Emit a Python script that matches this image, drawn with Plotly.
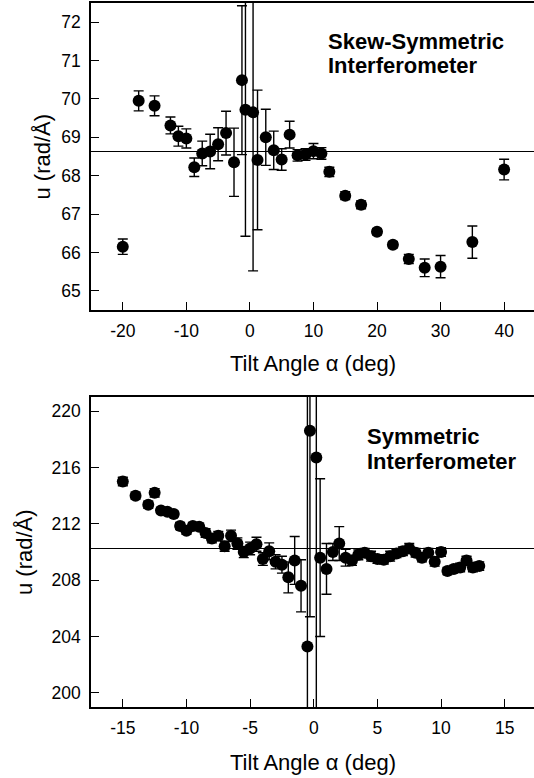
import plotly.graph_objects as go

# ---- Skew-symmetric interferometer: u versus tilt angle ----
tilt_skew = [-20, -17.5, -15, -12.5, -11.25, -10, -8.75, -7.5, -6.25, -5, -3.75, -2.5,
             -1.25, -0.7, 0.5, 1.2, 2.5, 3.75, 5, 6.25, 7.5, 8.75, 10, 11.25, 12.5,
             15, 17.5, 20, 22.5, 25, 27.5, 30, 35, 40]
u_skew = [66.15, 69.95, 69.82, 69.31, 69.03, 68.97, 68.22, 68.58, 68.63, 68.82, 69.11, 68.35,
          70.49, 69.72, 69.65, 68.41, 69.0, 68.66, 68.42, 69.07, 68.53, 68.55, 68.64, 68.58, 68.1,
          67.48, 67.24, 66.54, 66.2, 65.83, 65.6, 65.63, 66.27, 68.16]
err_skew = [0.2, 0.26, 0.26, 0.22, 0.26, 0.25, 0.24, 0.32, 0.45, 0.43, 0.57, 0.89,
            1.94, 3.3, 4.13, 1.82, 0.73, 0.5, 0.28, 0.35, 0.15, 0.15, 0.2, 0.15, 0.12,
            0.1, 0.1, 0.08, 0.08, 0.12, 0.23, 0.29, 0.42, 0.27]
u_ref_skew = 68.63
xticks_skew = [-20, -10, 0, 10, 20, 30, 40]
xtick_text_skew = ["-20", "-10", "0", "10", "20", "30", "40"]
yticks_skew = [65, 66, 67, 68, 69, 70, 71, 72]

# ---- Symmetric interferometer: u versus tilt angle ----
tilt_sym = [-15, -14, -13, -12.5, -12, -11.5, -11, -10.5, -10, -9.5, -9, -8.5, -8, -7.5,
            -7, -6.5, -6, -5.5, -5, -4.5, -4, -3.5, -3, -2.5, -2, -1.5, -1, -0.5, -0.3,
            0.2, 0.5, 1, 1.5, 2, 2.5, 3, 3.5, 4, 4.5, 5, 5.5, 6, 6.5, 7, 7.5, 8, 8.5,
            9, 9.5, 10, 10.5, 11, 11.5, 12, 12.5, 13]
u_sym = [215.0, 214.0, 213.35, 214.2, 212.95, 212.85, 212.7, 211.85, 211.5, 211.85, 211.8,
         211.35, 210.95, 211.15, 210.4, 211.15, 210.6, 210.0, 210.25, 210.55, 209.5, 210.05,
         209.3, 209.1, 208.2, 209.4, 207.6, 203.3, 218.6, 216.7, 209.6, 208.8, 210.0, 210.6,
         209.6, 209.4, 209.8, 209.95, 209.7, 209.5, 209.45, 209.7, 209.9, 210.05, 210.25,
         209.95, 209.6, 209.95, 209.3, 210.0, 208.65, 208.8, 208.9, 209.4, 208.9, 209.0]
err_sym = [0.3, 0.25, 0.25, 0.3, 0.2, 0.2, 0.2, 0.25, 0.25, 0.25, 0.25, 0.3, 0.3, 0.3,
           0.35, 0.4, 0.4, 0.4, 0.45, 0.5, 0.45, 0.6, 0.5, 0.6, 1.1, 1.7, 1.85, 20.0, 13.2,
           20.0, 5.6, 1.8, 0.6, 1.2, 0.6, 0.35, 0.35, 0.3, 0.35, 0.3, 0.3, 0.35, 0.3, 0.3,
           0.35, 0.3, 0.3, 0.3, 0.3, 0.3, 0.25, 0.25, 0.3, 0.3, 0.3, 0.3]
u_ref_sym = 210.25
xticks_sym = [-15, -10, -5, 0, 5, 10, 15]
xtick_text_sym = ["-15", "-10", "-5", "0", "5", "10", "15"]
yticks_sym = [200, 204, 208, 212, 216, 220]

FONT = "Liberation Sans, Arial, sans-serif"
W, H = 534, 778


def points(x, y, err, xa, ya):
    return go.Scatter(
        x=x, y=y, mode="markers", xaxis=xa, yaxis=ya, showlegend=False,
        marker=dict(symbol="circle", size=12, color="black", line=dict(width=0)),
        error_y=dict(type="data", array=err, visible=True, color="black",
                     thickness=1.4, width=5),
        cliponaxis=True,
    )


fig = go.Figure()
fig.add_trace(points(tilt_skew, u_skew, err_skew, "x", "y"))
fig.add_trace(points(tilt_sym, u_sym, err_sym, "x2", "y2"))

tick_style = dict(
    showgrid=False, zeroline=False,
    ticks="inside", ticklen=8, tickwidth=1.3, tickcolor="black",
    tickfont=dict(family=FONT, size=17.5, color="black"),
)
line_style = dict(showline=True, linecolor="black", linewidth=1.5)

x_dom = [91 / W, 1.0]
dom_top = [1 - 310 / H, 1 - 3 / H]
dom_bot = [1 - 707 / H, 1 - 397 / H]
range_top = [64.5, 72.5]
range_bot = [199, 221]

fig.update_layout(
    width=W, height=H,
    margin=dict(l=0, r=0, t=0, b=0),
    paper_bgcolor="white", plot_bgcolor="white",
    font=dict(family=FONT, color="black"),
    xaxis=dict(domain=x_dom, anchor="y", range=[-25, 44.7], tickmode="array",
               tickvals=xticks_skew, ticktext=xtick_text_skew, mirror=True,
               ticklabelstandoff=4, **tick_style, **line_style),
    yaxis=dict(domain=dom_top, anchor="x", range=range_top, tickmode="array",
               tickvals=yticks_skew, ticklabelstandoff=5, **tick_style, **line_style),
    # right-hand tick marks for the upper panel (frame edge lies at the page border)
    yaxis3=dict(overlaying="y", side="right", anchor="x", range=range_top,
                tickmode="array", tickvals=yticks_skew, showticklabels=False,
                showline=False, **tick_style),
    xaxis2=dict(domain=x_dom, anchor="y2", range=[-17.5, 17.3], tickmode="array",
                tickvals=xticks_sym, ticktext=xtick_text_sym, mirror=True,
                ticklabelstandoff=4, **tick_style, **line_style),
    yaxis2=dict(domain=dom_bot, anchor="x2", range=range_bot, tickmode="array",
                tickvals=yticks_sym, ticklabelstandoff=5, **tick_style, **line_style),
    yaxis4=dict(overlaying="y2", side="right", anchor="x2", range=range_bot,
                tickmode="array", tickvals=yticks_sym, showticklabels=False,
                showline=False, **tick_style),
)

# mean reference levels
fig.add_shape(type="line", xref="x domain", yref="y", x0=0, x1=1,
              y0=u_ref_skew, y1=u_ref_skew, line=dict(color="black", width=1.2),
              layer="below")
fig.add_shape(type="line", xref="x2 domain", yref="y2", x0=0, x1=1,
              y0=u_ref_sym, y1=u_ref_sym, line=dict(color="black", width=1.2),
              layer="below")


def label(text, x, y, size=22, bold=False, angle=0, xanchor="center"):
    fig.add_annotation(
        text=f"<b>{text}</b>" if bold else text, x=x / W, y=1 - y / H,
        xref="paper", yref="paper", xanchor=xanchor, yanchor="middle",
        showarrow=False, textangle=angle,
        font=dict(family=FONT, size=size, color="black"),
    )


# axis titles
label("u (rad/Å)", 42, 156.5, angle=-90)
label("u (rad/Å)", 24, 552, angle=-90)
label("Tilt Angle α (deg)", 313, 363)
label("Tilt Angle α (deg)", 313, 762)

# panel captions
label("Skew-Symmetric", 326, 41.7, bold=True, xanchor="left")
label("Interferometer", 326, 65, bold=True, xanchor="left")
label("Symmetric", 365, 436.7, bold=True, xanchor="left")
label("Interferometer", 365, 461.7, bold=True, xanchor="left")

fig.write_html("out.html")
